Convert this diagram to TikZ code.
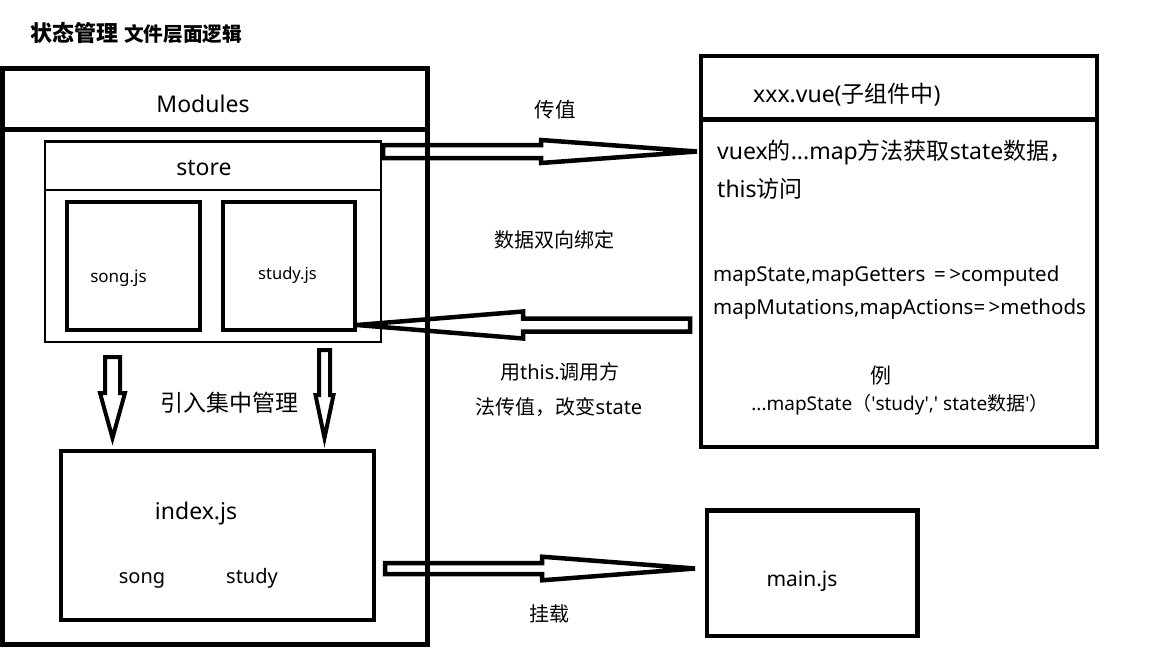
\documentclass[tikz,border=0pt]{standalone}
\usepackage{fontspec}
\setmainfont{Noto Sans}
\newfontfamily\cjk{Noto Sans CJK SC}
\usetikzlibrary{calc}
\newcommand\fsz[1]{\fontsize{#1}{#1}\selectfont}
% hollow block arrow: tail, tip, head length, shaft half width, head half width
\newcommand\hollowarrow[6][]{%
  \coordinate (hb) at ($(#3)!#4!(#2)$);
  \draw[arrline,#1] ($(#2)!#5!90:(#3)$) -- ($(hb)!#5!-90:(#2)$) -- ($(hb)!#6!-90:(#2)$) -- (#3)
    -- ($(hb)!#6!90:(#2)$) -- ($(hb)!#5!90:(#2)$) -- ($(#2)!#5!-90:(#3)$) -- cycle;
}
\tikzset{
  box/.style={draw, line width=4.5pt, inner sep=0pt, outer sep=0pt},
  thinbox/.style={draw, line width=2.5pt, inner sep=0pt, outer sep=0pt},
  arrline/.style={line width=4.5pt, line join=miter},
  lbl/.style={inner sep=0pt, text height=1.5em, text depth=0.08em, font=\fsz{23}},
}

\begin{document}
\begin{tikzpicture}[x=1pt,y=-1pt]
\useasboundingbox (0,0) rectangle (1152,648);

% title
\node[lbl, anchor=west, font=\fsz{19.7}] (title) at (30,34) {\cjk\bfseries{\fsz{22}状态管理}\hspace{0.3em}文件层面逻辑};

% Modules
\node[box, line width=5pt, minimum width=425, minimum height=576] (modules) at (215,356.5) {};
\draw[line width=5pt] ([yshift=-61pt]modules.north west) -- ([yshift=-61pt]modules.north east);
\node[lbl] (modlabel) at (203,105) {Modules};

% store
\node[thinbox, minimum width=336, minimum height=200.5] (store) at (213,241.8) {};
\draw[line width=2.5pt] ([yshift=-48.5pt]store.north west) -- ([yshift=-48.5pt]store.north east);
\node[lbl] (storelabel) at (204,168) {store};
\node[box, line width=4pt, minimum width=133, minimum height=128] (songjs) at (133.5,266) {};
\node[box, line width=4pt, minimum width=132, minimum height=128] (studyjs) at (289,266) {};
\node[lbl, font=\fsz{17}] (songlabel) at (118.5,275) {song.js};
\node[lbl, font=\fsz{16.5}] (studylabel) at (287.5,272) {study.js};

% import
\coordinate (songtop) at (112.5,357);
\coordinate (songdown) at (112.5,438);
\coordinate (studytop) at (324.5,350);
\coordinate (studydown) at (324.5,438);
\hollowarrow[line width=4pt]{songtop}{songdown}{45pt}{7.5pt}{12.5pt}
\hollowarrow[line width=4pt]{studytop}{studydown}{43pt}{5.5pt}{9pt}
\node[lbl] (importlabel) at (229,404) {\cjk 引入集中管理};

% index.js
\node[box, line width=4pt, minimum width=313, minimum height=169] (index) at (217,535.5) {};
\node[lbl] (indexlabel) at (196,512) {index.js};
\node[lbl, font=\fsz{20}] (songmod) at (142,576) {song};
\node[lbl, font=\fsz{20}] (studymod) at (252,576) {study};

% xxx.vue
\node[box, minimum width=396, minimum height=391] (vue) at (899,251.5) {};
\draw[line width=4.5pt] ([yshift=-63.5pt]vue.north west) -- ([yshift=-63.5pt]vue.north east);
\node[lbl, anchor=west] (vuelabel) at (753,95) {xxx.vue({\cjk 子组件中})};
\node[lbl, anchor=west] (vuetext1) at (717,152) {vuex{\cjk 的}...map{\cjk 方法获取}state{\cjk 数据，}};
\node[lbl, anchor=west] (vuetext2) at (717,190) {this{\cjk 访问}};
\node[lbl, anchor=west, font=\fsz{20.5}] (mapline1) at (713,274) {mapState,mapGetters \,=\,>computed};
\node[lbl, anchor=west, font=\fsz{20.5}] (mapline2) at (713,307) {mapMutations,mapActions=\,>methods};
\node[lbl, font=\fsz{21}] (example) at (881,376) {\cjk 例};
\node[lbl, font=\fsz{19}] (examplecode) at (900,403) {...mapState{\cjk （}\textquotesingle study\textquotesingle,\textquotesingle{} state{\cjk 数据}\textquotesingle{\cjk ）}};

% main.js
\node[box, minimum width=210.5, minimum height=125.5] (mainjs) at (812,573) {};
\node[lbl, font=\fsz{21}] (mainlabel) at (802,579) {main.js};

% connectors
\coordinate (passtail) at (383,151.5);
\coordinate (passtip) at ([xshift=-4pt]passtail -| vue.west);
\coordinate (calltail) at (690,325);
\coordinate (calltip) at ([xshift=2pt,yshift=5pt]studyjs.south east);
\coordinate (mounttail) at (385,568.5);
\coordinate (mounttip) at (695,568.5);
\hollowarrow{passtail}{passtip}{156pt}{6.5pt}{11.5pt}
\hollowarrow{calltail}{calltip}{166pt}{6.5pt}{13.5pt}
\hollowarrow{mounttail}{mounttip}{153pt}{5.5pt}{11.8pt}
\node[lbl, font=\fsz{20.5}] (passlabel) at (555,110) {\cjk 传值};
\node[lbl, font=\fsz{20}] (bindlabel) at (554,240) {\cjk 数据双向绑定};
\node[lbl, font=\fsz{20}] (calllabel1) at (560,372) {{\cjk 用}this.{\cjk 调用方}};
\node[lbl, font=\fsz{20}] (calllabel2) at (559,407) {{\cjk 法传值，改变}state};
\node[lbl, font=\fsz{20}] (mountlabel) at (549,614) {\cjk 挂载};
\end{tikzpicture}
\end{document}
